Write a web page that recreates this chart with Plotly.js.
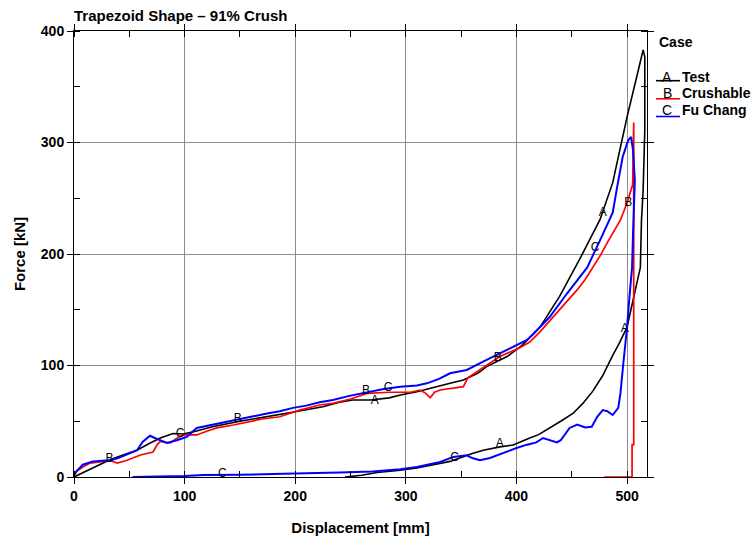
<!DOCTYPE html>
<html>
<head>
<meta charset="utf-8">
<script src="https://cdn.plot.ly/plotly-3.0.1.min.js"></script>
<style>html,body{margin:0;padding:0;background:#fff;}#chart{width:756px;height:541px;}</style>
</head>
<body>
<div id="chart"></div>
<script>
// ---- Data ----
const testX = [0,10,20,32.5,45,57,68,78,89.5,98.5,110,125,150,175,200,225,240,252,268,285,295,310,325,340,352,365,373,391.5,405,421,439,457.5,475.6,487,500,509,514.5,516,516,514.5,513,512,505.6,500,493,487,478,469,460,451,440,430,420,412,397,385,370,360,352,340,325,310,295,285,274,260,249,245];
const testY = [0,5,10,15.5,20,24,30,35,39,38.5,41,45,50,54,58.5,63,67,69,69,71,73.5,76.5,80,84,87,93,99,108,118,134,162,196,231,264,323,359,383,377,311,257,230,188,159,134.5,120,109,91,77,66,57,50,44,38,35,28.7,27,24,21,18,14,11,8,6,5,4,1.5,0,0];

const crushX = [0,2,8,14.5,23.5,32.5,39,48,60,71.5,75,78,83,87,92,98.5,105,111,120,129,144,156,170,186,204,222,234,250,265,285,304,313,318,322,326,331,345,352,356,367,385,403,412,421,430,439,447,455,462,469,476,482,488,494,500,503,505,506,506,504.5,504.5,479];
const crushY = [0,5,9,12.5,13.5,15,12.5,15,19.7,22.4,28.7,32,31,30.5,34,37.7,38,37.7,41,44,46.6,49,52,54,60,64.6,66,70,75,76,76,78,75,71,76,78,80,81,89,96,108,116,121,130,140,150,159,168,177,188,199,210,220,230.5,246,256,262,318,29,29,0,0];

const fuX = [0,3,8,17,25,32.5,40,48,57,62,68.7,73,78,84,93,102,111,123,135,144,160,174.5,186,198,210,222,234,250,265,280,295,310,319,330,340,355,373,391.5,409.6,415,430,446,464,475.6,487,491,496,501,503.6,505.4,507,505.4,504.5,502,500,496.6,494,492,487,482,478,473,468,462,455,448,445,440,436.6,430,424,418,409.6,400,392,385,376,367,360,355,343,331,320,310,295,270,240,204,180,150,117,100,60,53];
const fuY = [2,6,11,14,14.5,15,17,20,24,31.5,37,35,33,30.5,33,36,44,46.6,49,51,54,57,59,62,64,67,69,73,76,79,81,82,84,88,93,96,105,114,123,128,143.5,165,188,212.5,237,260,287,302,305,293,266,219,188,160,134.5,102,75,62,55.6,59,60,54,45,44.5,47,44,40,33,31,33,35,31,29,26,23,20,17,15,17,19.5,18,13.5,11,9,7,5,4,3.5,2.7,2,1.8,1,0.5,0];

// curve label letters
const labA_x = [272,385,478,498];
const labA_y = [68,30,237,133];
const labB_x = [32,148,264,383,501];
const labB_y = [16,52,77,107,246];
const labC_x = [96,134,284,344,471];
const labC_y = [39,3,80,17,205];

const caseNames = ["Test","Crushable","Fu Chang"];
const caseLetters = ["A","B","C"];
const caseColors = ["#000000","#ff0000","#0000ff"];

// ---- Chart ----
const FONT = "Liberation Sans, Arial, sans-serif";
const labFont = {family: FONT, size: 12, color: "#000"};
const traces = [
  {x: testX, y: testY, mode: "lines", line: {color: caseColors[0], width: 1.6}, name: caseNames[0], showlegend: false, hoverinfo: "skip"},
  {x: crushX, y: crushY, mode: "lines", line: {color: caseColors[1], width: 1.7}, name: caseNames[1], showlegend: false, hoverinfo: "skip"},
  {x: fuX, y: fuY, mode: "lines", line: {color: caseColors[2], width: 2}, name: caseNames[2], showlegend: false, hoverinfo: "skip"},
  {x: labA_x, y: labA_y, mode: "text", text: labA_x.map(() => "A"), textfont: labFont, showlegend: false, hoverinfo: "skip"},
  {x: labB_x, y: labB_y, mode: "text", text: labB_x.map(() => "B"), textfont: labFont, showlegend: false, hoverinfo: "skip"},
  {x: labC_x, y: labC_y, mode: "text", text: labC_x.map(() => "C"), textfont: labFont, showlegend: false, hoverinfo: "skip"}
];

// manual legend (paper coordinates)
const L = 74, R = 647, T = 31, B = 477;
const px2x = p => (p - L) / (R - L);
const px2y = p => (B - p) / (B - T);
const legLineY = [80.7, 98.8, 116.5];
const legTextY = [76.5, 93, 110];
const shapes = [];
const annotations = [
  {xref: "paper", yref: "paper", x: px2x(657), y: px2y(42), xanchor: "left", yanchor: "middle", text: "Case", showarrow: false, font: {family: FONT, size: 14, color: "#000", weight: "bold"}}
];
for (let i = 0; i < 3; i++) {
  shapes.push({type: "line", xref: "paper", yref: "paper", x0: px2x(656), x1: px2x(680), y0: px2y(legLineY[i]), y1: px2y(legLineY[i]), line: {color: caseColors[i], width: 1.6}});
  annotations.push({xref: "paper", yref: "paper", x: px2x(667), y: px2y(legTextY[i]), xanchor: "center", yanchor: "middle", text: caseLetters[i], showarrow: false, font: {family: FONT, size: 14, color: "#000"}});
  annotations.push({xref: "paper", yref: "paper", x: px2x(680), y: px2y(legTextY[i]), xanchor: "left", yanchor: "middle", text: caseNames[i], showarrow: false, font: {family: FONT, size: 14, color: "#000", weight: "bold"}});
}

const axisCommon = {
  showline: true, linecolor: "#000", linewidth: 1, mirror: "ticks",
  ticks: "outside", ticklen: 6, tickcolor: "#000", tickwidth: 1,
  showgrid: true, gridcolor: "#8c8c8c", gridwidth: 1,
  zeroline: false,
  minor: {dtick: 50, ticks: "inside", ticklen: 6, tickcolor: "#000", showgrid: false},
  tickfont: {family: FONT, size: 14, color: "#000", weight: "bold"}
};

const layout = {
  width: 756, height: 541,
  margin: {l: L, r: 756 - R, t: T, b: 541 - B},
  paper_bgcolor: "#fff", plot_bgcolor: "#fff",
  showlegend: false,
  title: {text: "Trapezoid Shape \u2013 91% Crush", xref: "paper", x: 0, xanchor: "left", yref: "container", y: 1 - 16/541, yanchor: "middle", font: {family: FONT, size: 15, color: "#000", weight: "bold"}},
  xaxis: Object.assign({}, axisCommon, {range: [0, 518], tick0: 0, dtick: 100,
    title: {text: "Displacement [mm]", standoff: 19, font: {family: FONT, size: 15, color: "#000", weight: "bold"}}}),
  yaxis: Object.assign({}, axisCommon, {range: [0, 400], tick0: 0, dtick: 100,
    title: {text: "Force [kN]", standoff: 11, font: {family: FONT, size: 15, color: "#000", weight: "bold"}}}),
  shapes: shapes,
  annotations: annotations
};

Plotly.newPlot("chart", traces, layout, {displayModeBar: false, staticPlot: true});
</script>
</body>
</html>
